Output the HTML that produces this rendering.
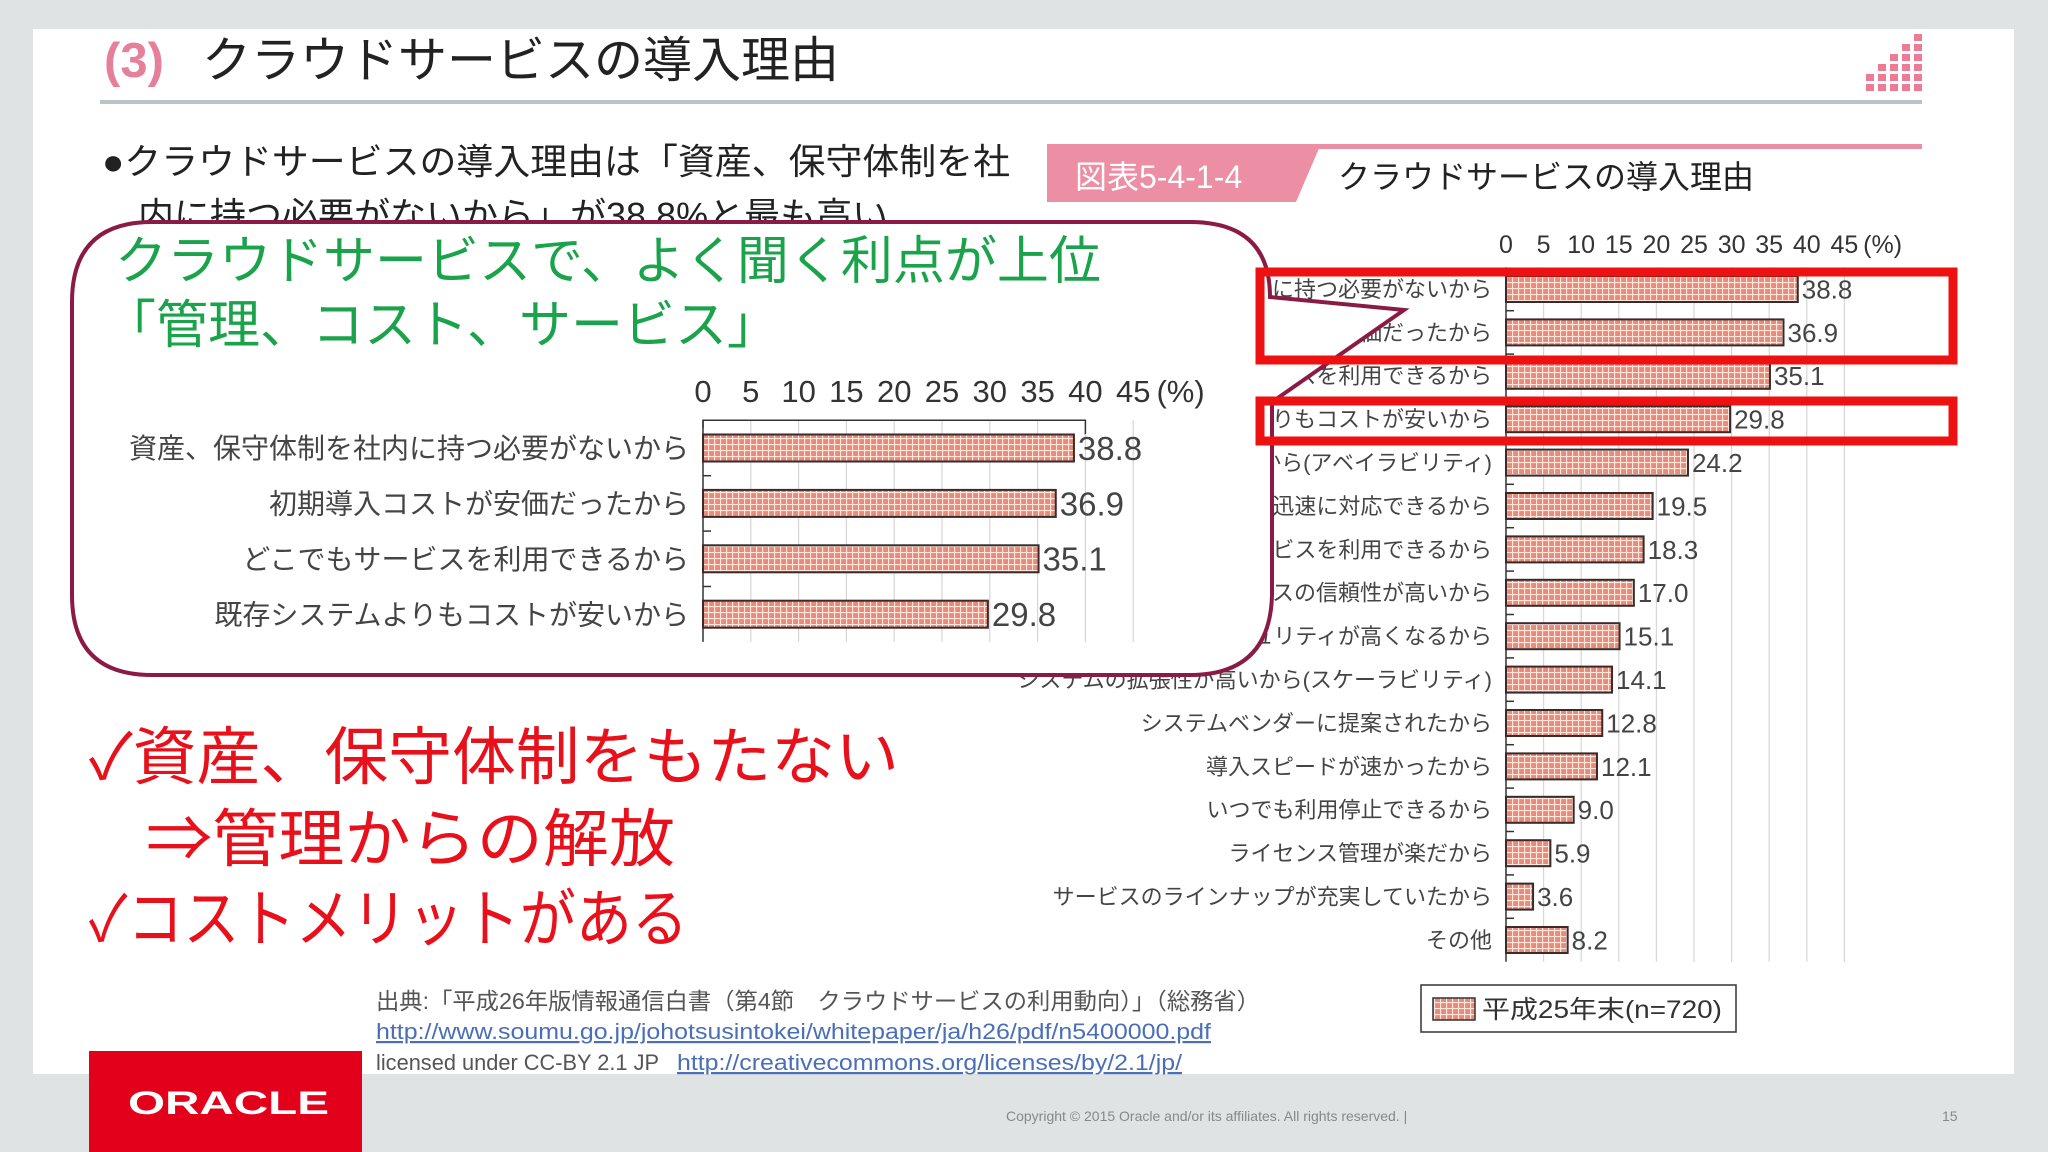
<!DOCTYPE html>
<html><head><meta charset="utf-8">
<style>
html,body{margin:0;padding:0;width:2048px;height:1152px;overflow:hidden;background:#dfe3e3;}
svg text{font-family:"Liberation Sans","Noto Sans CJK JP",sans-serif;}
</style></head>
<body>
<svg id="s" width="2048" height="1152" viewBox="0 0 2048 1152" xmlns="http://www.w3.org/2000/svg">
<defs>
<pattern id="grid" width="6" height="6" patternUnits="userSpaceOnUse">
<rect width="6" height="6" fill="#e98b76"/>
<path d="M0 0.5H6M0.5 0V6" stroke="#fbe7df" stroke-width="1.3"/>
</pattern>
</defs>
<rect x="33" y="29" width="1981" height="1045" fill="#ffffff"/>
<rect x="0" y="1074" width="2048" height="78" fill="#dfe3e3"/>

<text x="104" y="77" font-size="49" font-weight="bold" fill="#e57f9a">(3)</text>
<text x="202" y="77" font-size="49" fill="#222">クラウドサービスの導入理由</text>
<rect x="100" y="100" width="1822" height="4" fill="#b9c3c8"/>
<g id="stairs"></g>

<text x="102" y="174" font-size="36" fill="#222" textLength="908" lengthAdjust="spacingAndGlyphs">●クラウドサービスの導入理由は「資産、保守体制を社</text>
<text x="138" y="228" font-size="36" fill="#222">内に持つ必要がないから」が38.8%と最も高い</text>

<rect x="1047" y="144" width="875" height="5" fill="#ec8ea4"/>
<polygon points="1047,146 1320,146 1296,202 1047,202" fill="#ec8ea4"/>
<text x="1075" y="188" font-size="32" fill="#fff">図表5-4-1-4</text>
<text x="1338" y="188" font-size="32" fill="#222">クラウドサービスの導入理由</text>

<g id="chartR"></g>

<rect x="1421" y="985" width="315" height="47" fill="#fff" stroke="#333" stroke-width="1.5"/>
<rect x="1433" y="998" width="42" height="22" fill="url(#grid)" stroke="#333" stroke-width="1.5"/>
<text x="1482" y="1018" font-size="25" fill="#333" textLength="240" lengthAdjust="spacingAndGlyphs">平成25年末(n=720)</text>

<g id="callout">
<path d="M152,222 H1190 Q1270,222 1270,297 L1404,310 L1272,402 V595 Q1270,675 1190,675 H152 Q72,675 72,595 V302 Q72,222 152,222 Z" fill="#fff" stroke="#8b1a45" stroke-width="4"/>
<text x="115" y="279" font-size="52" fill="#1aa34a">クラウドサービスで、よく聞く利点が上位</text>
<text x="104" y="343" font-size="52" fill="#1aa34a">「管理、コスト、サービス」</text>
<g id="chartC"></g>
</g>

<rect x="1260" y="272" width="693" height="88" fill="none" stroke="#ee1111" stroke-width="9"/>
<rect x="1260" y="401" width="693" height="40" fill="none" stroke="#ee1111" stroke-width="9"/>

<text x="89" y="779" font-size="63" fill="#e8101a" textLength="810" lengthAdjust="spacingAndGlyphs">✓資産、保守体制をもたない</text>
<text x="146" y="861" font-size="63" fill="#e8101a" textLength="529" lengthAdjust="spacingAndGlyphs">⇒管理からの解放</text>
<text x="89" y="941" font-size="63" fill="#e8101a" textLength="599" lengthAdjust="spacingAndGlyphs">✓コストメリットがある</text>

<text x="376" y="1009" font-size="23" fill="#555" textLength="884" lengthAdjust="spacingAndGlyphs">出典:「平成26年版情報通信白書（第4節　クラウドサービスの利用動向）」（総務省）</text>
<text x="376" y="1039" font-size="22" fill="#4a6fb8" text-decoration="underline" textLength="835" lengthAdjust="spacingAndGlyphs">http://www.soumu.go.jp/johotsusintokei/whitepaper/ja/h26/pdf/n5400000.pdf</text>
<text x="376" y="1070" font-size="22" fill="#555" textLength="283" lengthAdjust="spacingAndGlyphs">licensed under CC-BY 2.1 JP</text>
<text x="677" y="1070" font-size="22" fill="#4a6fb8" text-decoration="underline" textLength="505" lengthAdjust="spacingAndGlyphs">http://creativecommons.org/licenses/by/2.1/jp/</text>

<rect x="89" y="1051" width="273" height="101" fill="#e2001a"/>
<text x="128" y="1114" font-size="32" font-weight="bold" fill="#fff" textLength="201" lengthAdjust="spacingAndGlyphs">ORACLE</text>
<text x="1006" y="1121" font-size="14" fill="#888">Copyright © 2015 Oracle and/or its affiliates. All rights reserved.  |</text>
<text x="1942" y="1121" font-size="14" fill="#888">15</text>
</svg>
<script>
const categories = ["資産、保守体制を社内に持つ必要がないから","初期導入コストが安価だったから","どこでもサービスを利用できるから","既存システムよりもコストが安いから","安定運用、可用性が高くなるから(アベイラビリティ)","システムの容量の変更などが迅速に対応できるから","災害時のバックアップとしてサービスを利用できるから","サービスの信頼性が高いから","情報漏洩などに対するセキュリティが高くなるから","システムの拡張性が高いから(スケーラビリティ)","システムベンダーに提案されたから","導入スピードが速かったから","いつでも利用停止できるから","ライセンス管理が楽だから","サービスのラインナップが充実していたから","その他"];
const values = [38.8,36.9,35.1,29.8,24.2,19.5,18.3,17.0,15.1,14.1,12.8,12.1,9.0,5.9,3.6,8.2];
const valueLabels = ["38.8","36.9","35.1","29.8","24.2","19.5","18.3","17.0","15.1","14.1","12.8","12.1","9.0","5.9","3.6","8.2"];
const tickValues = [0,5,10,15,20,25,30,35,40,45];
const calloutCategories = ["資産、保守体制を社内に持つ必要がないから","初期導入コストが安価だったから","どこでもサービスを利用できるから","既存システムよりもコストが安いから"];
const calloutValues = [38.8,36.9,35.1,29.8];
const calloutLabels = ["38.8","36.9","35.1","29.8"];

const NS = "http://www.w3.org/2000/svg";
function mk(tag, attrs, parent, text){
  const e = document.createElementNS(NS, tag);
  for (const k in attrs) e.setAttribute(k, attrs[k]);
  if (text !== undefined) e.textContent = text;
  parent.appendChild(e);
  return e;
}

function drawChart(g, cats, vals, labs, o){
  const x = v => o.x0 + v * o.ppu;
  const yc = i => o.y0 + i * o.step;
  const top = yc(0) - o.step/2, bot = yc(cats.length-1) + o.step/2;
  tickValues.forEach(t => {
    if (t > 0) {
      const l = mk('line', {x1:x(t), x2:x(t), y1:top, y2:bot, stroke:'#d6d6d6', 'stroke-width':1.2}, g);
      
      
    }
    const tl = mk('text', {x:x(t), y:o.tickY, 'font-size':o.tickFs, fill:'#333', 'text-anchor':'middle'}, g, String(t));
    
    
  });
  const pct = mk('text', {x:x(45)+o.tickFs*0.75, y:o.tickY, 'font-size':o.tickFs, fill:'#333'}, g, '(%)');
  
  
  if (o.frameTop) {
    const f = mk('path', {d:`M${o.x0} ${top+8}V${top}H${x(40)}V${top+14}`, fill:'none', stroke:'#333', 'stroke-width':1.5}, g);
    
    
  }
  const ax = mk('line', {x1:o.x0, x2:o.x0, y1:top, y2:bot, stroke:'#333', 'stroke-width':1.5}, g);
  
  
  cats.forEach((c, i) => {
    if (i > 0) {
      const tk = mk('line', {x1:o.x0, x2:o.x0+8, y1:yc(i)-o.step/2, y2:yc(i)-o.step/2, stroke:'#333', 'stroke-width':1.5}, g);
      
      
    }
    const b = mk('rect', {x:o.x0, y:yc(i)-o.bh/2, width:x(vals[i])-o.x0, height:o.bh, fill:'url(#grid)', stroke:'#3a2a2a', 'stroke-width':2}, g);
    
    
    const lb = mk('text', {x:o.x0-o.labGap, y:yc(i)+o.labFs*0.36, 'font-size':o.labFs, fill:'#444', 'text-anchor':'end'}, g, c);
    
    
    const vl = mk('text', {x:x(vals[i])+4, y:yc(i)+o.valFs*0.36, 'font-size':o.valFs, fill:'#444'}, g, labs[i]);
    
    
  });
}

drawChart(document.getElementById('chartR'), categories, values, valueLabels,
  {x0:1506, ppu:7.52, y0:289, step:43.4, bh:26, tickY:253, tickFs:25, labFs:22, labGap:14, valFs:26, frameTop:false});
drawChart(document.getElementById('chartC'), calloutCategories, calloutValues, calloutLabels,
  {x0:703, ppu:9.56, y0:448, step:55.4, bh:27, tickY:402, tickFs:31, labFs:28, labGap:14, valFs:33, frameTop:true});

const st = document.getElementById('stairs');
for (let c = 0; c < 5; c++) {
  for (let r = 0; r <= c + 1 && r < 6; r++) {
    const d = mk('rect', {x:1866 + c*12, y:84 - r*10, width:8, height:7, fill:'#ec7b95'}, st);
    
    
  }
}
</script>
</body></html>
